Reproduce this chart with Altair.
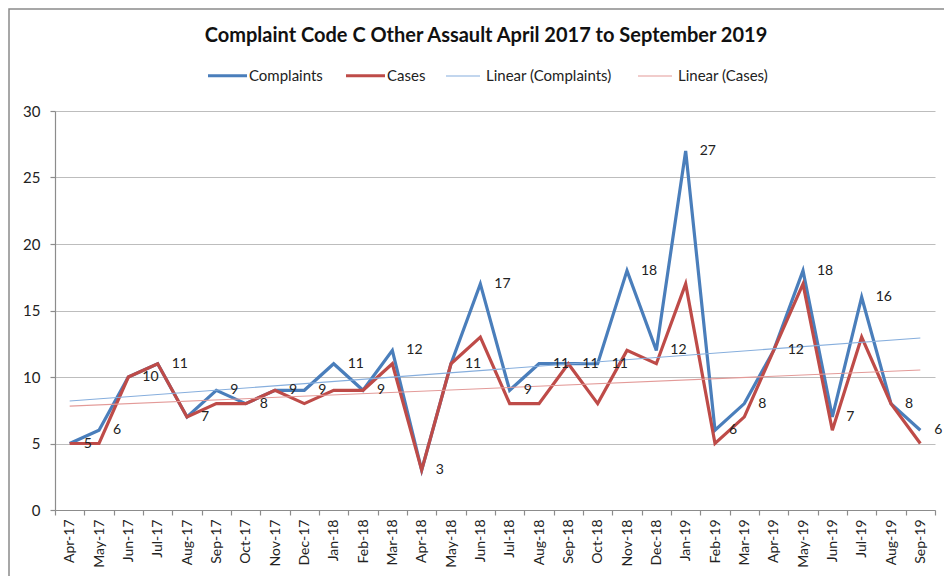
import altair as alt
import pandas as pd
import json

months = ["Apr-17", "May-17", "Jun-17", "Jul-17", "Aug-17", "Sep-17", "Oct-17", "Nov-17",
          "Dec-17", "Jan-18", "Feb-18", "Mar-18", "Apr-18", "May-18", "Jun-18", "Jul-18",
          "Aug-18", "Sep-18", "Oct-18", "Nov-18", "Dec-18", "Jan-19", "Feb-19", "Mar-19",
          "Apr-19", "May-19", "Jun-19", "Jul-19", "Aug-19", "Sep-19"]
complaints = [5, 6, 10, 11, 7, 9, 8, 9, 9, 11, 9, 12, 3, 11, 17, 9, 11, 11, 11, 18, 12, 27,
              6, 8, 12, 18, 7, 16, 8, 6]
cases = [5, 5, 10, 11, 7, 8, 8, 9, 8, 9, 9, 11, 3, 11, 13, 8, 8, 11, 8, 12, 11, 17,
         5, 7, 12, 17, 6, 13, 8, 5]

data_names = ["Complaints", "Cases"]
data_colors = ["#4A7EBB", "#BE4B48"]
trend_names = ["Linear (Complaints)", "Linear (Cases)"]
trend_colors = ["#86AEDD", "#E39A98"]

rows = []
for i, m in enumerate(months):
    rows.append({"i": i, "month": m, "series": "Complaints", "value": complaints[i]})
    rows.append({"i": i, "month": m, "series": "Cases", "value": cases[i]})
df = pd.DataFrame(rows)

FONT = "Lato"
W, H = 880, 399
step = W / len(months)
label_expr = json.dumps(months).replace('"', "'") + "[round(datum.value + 0.5)] || ''"

x_enc = alt.X(
    "i:Q",
    scale=alt.Scale(domain=[-0.5, len(months) - 0.5], nice=False, zero=False),
    axis=alt.Axis(
        values=[k - 0.5 for k in range(len(months) + 1)],
        labelExpr=label_expr,
        labelOffset=step / 2,
        labelAngle=-90,
        labelAlign="right",
        labelBaseline="middle",
        labelOverlap=False,
        labelFlush=False,
        labelBound=False,
        labelPadding=4,
        labelFontSize=14,
        labelFont=FONT,
        labelColor="#222222",
        grid=False,
        domainColor="#8c8c8c",
        tickColor="#8c8c8c",
        tickSize=5,
        title=None,
    ),
)
y_enc = alt.Y(
    "value:Q",
    scale=alt.Scale(domain=[0, 30], nice=False),
    axis=alt.Axis(
        values=[0, 5, 10, 15, 20, 25, 30],
        labelFontSize=15,
        labelFont=FONT,
        labelColor="#222222",
        labelPadding=10,
        tickSize=5,
        tickColor="#8c8c8c",
        domainColor="#8c8c8c",
        gridColor="#bdbdbd",
        gridWidth=1.2,
        title=None,
    ),
)

legend_common = dict(
    orient="none",
    direction="horizontal",
    title=None,
    symbolType="stroke",
    labelFont=FONT,
    labelFontSize=15,
    labelColor="#222222",
)

color_enc = alt.Color(
    "series:N",
    scale=alt.Scale(domain=data_names, range=data_colors),
    legend=alt.Legend(legendX=151, legendY=-57, symbolStrokeWidth=3.2, symbolSize=1521,
                      labelOffset=0, columnPadding=16, **legend_common),
)
stroke_enc = alt.Stroke(
    "series:N",
    scale=alt.Scale(domain=trend_names, range=trend_colors),
    legend=alt.Legend(legendX=390, legendY=-53, symbolStrokeWidth=1.2, symbolSize=1156,
                      labelOffset=5, columnPadding=23, **legend_common),
)

base = alt.Chart(df)

lines = base.mark_line(strokeWidth=3.2).encode(
    x=x_enc, y=y_enc, color=color_enc, order="i:Q"
)

trend = (
    base.transform_regression("i", "value", groupby=["series"])
    .transform_calculate(series="'Linear (' + datum.series + ')'")
    .mark_line(strokeWidth=1.1)
    .encode(x=x_enc, y=y_enc, stroke=stroke_enc)
)

labels = (
    base.transform_filter(alt.datum.series == "Complaints")
    .mark_text(align="left", baseline="middle", dx=14, fontSize=14, font=FONT, color="#222222")
    .encode(x=x_enc, y=y_enc, text="value:Q")
)

border = alt.Chart(pd.DataFrame({"a": [0]})).mark_rect(
    fill=None, stroke="#8a8a8a", strokeWidth=1.5, clip=False
).encode(
    x=alt.value(-46), x2=alt.value(W + 60), y=alt.value(-102), y2=alt.value(H + 80)
)

chart = (
    alt.layer(border, lines, trend, labels)
    .resolve_scale(color="independent", stroke="independent")
    .properties(
        width=W,
        height=H,
        title=alt.TitleParams(
            "Complaint  Code C Other Assault April 2017 to September 2019",
            font=FONT,
            fontSize=20,
            fontWeight="bold",
            color="#111111",
            anchor="middle",
            dx=-9,
            dy=38,
            offset=0,
        ),
        padding={"left": 47, "top": 103, "right": 9, "bottom": 66},
        autosize=alt.AutoSizeParams(type="none"),
    )
    .configure_view(stroke=None)
    .configure_axis(domainWidth=1.2, tickWidth=1.2)
)

chart.save("out.html", embed_options={"renderer": "svg", "actions": False})
